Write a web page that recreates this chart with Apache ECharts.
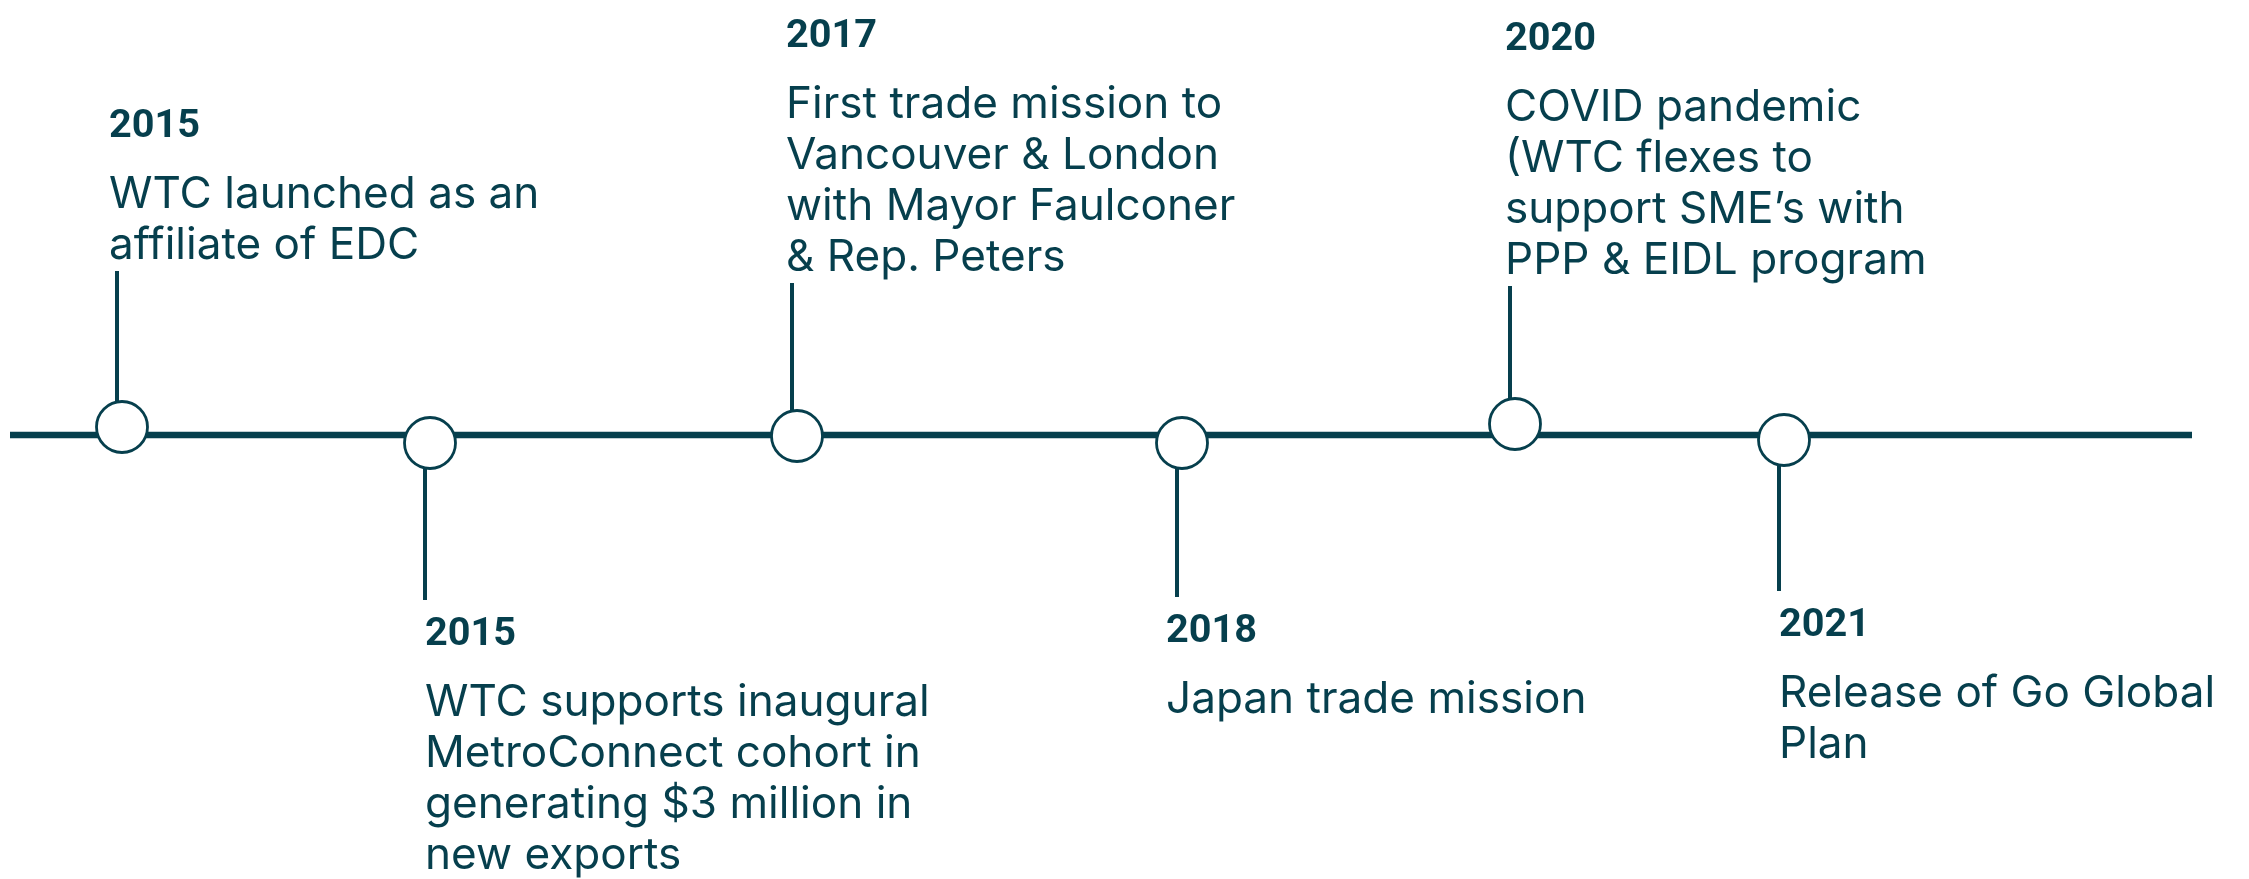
<!DOCTYPE html>
<html><head><meta charset="utf-8">
<script src="https://cdn.jsdelivr.net/npm/echarts@6/dist/echarts.min.js"></script>
<style>html,body{margin:0;padding:0;background:#fff}#c{width:2249px;height:879px}</style>
</head><body><div id="c"></div>
<script>
// ---- data ----
const years = ['2015', '2015', '2017', '2018', '2020', '2021'];
const descriptions = [
  ['WTC launched as an', 'affiliate of EDC'],
  ['WTC supports inaugural', 'MetroConnect cohort in', 'generating $3 million in', 'new exports'],
  ['First trade mission to', 'Vancouver & London', 'with Mayor Faulconer', '& Rep. Peters'],
  ['Japan trade mission'],
  ['COVID pandemic', '(WTC flexes to', 'support SME\u2019s with', 'PPP & EIDL program'],
  ['Release of Go Global', 'Plan']
];
// position of each event along the timeline (x value) and its marker level (y value)
const eventPos = [122, 430, 797, 1182, 1515, 1784];
const markerLevel = [427, 443, 436, 443, 424, 440];
// where each connector ends (y value)
const stemEnd = [271, 600, 283, 597, 286, 591];
const timelineRange = [10, 2192];
const timelineLevel = 435;

// ---- style ----
const COLOR = '#063f4d';
const DESC_FONT = 'Inter';
const YEAR_FONT = 'Roboto';
function fitSize(text, family, weight, target) {
  const cv = document.createElement('canvas').getContext('2d');
  cv.font = weight + ' 100px "' + family + '"';
  return 100 * target / cv.measureText(text).width;
}
const descSize = fitSize('WTC supports inaugural', DESC_FONT, 'normal', 505);
const yearSize = fitSize('2015', YEAR_FONT, 'bold', 91);
const LINE_GAP = 51, YEAR_GAP = 70;
const DESC_NUDGE = 3, YEAR_NUDGE = 5;
const labelShift = [-8, 0, -6, -11, -5, 0];

const chart = echarts.init(document.getElementById('c'));

function renderItem(params, api) {
  const i = params.dataIndex;
  const c = api.coord([api.value(0), api.value(1)]);
  const e = api.coord([api.value(0), api.value(2)]);
  const up = e[1] < c[1];
  const r = 25.5;
  const sx = c[0] - 5;
  const tx = sx + labelShift[i];
  const kids = [];
  kids.push({type: 'line', shape: {x1: sx, y1: up ? c[1] - r : c[1] + r, x2: sx, y2: e[1]},
    style: {stroke: COLOR, lineWidth: 4}});
  kids.push({type: 'circle', shape: {cx: c[0], cy: c[1], r: r},
    style: {fill: '#fff', stroke: COLOR, lineWidth: 2.8}, z2: 5});
  const lines = descriptions[i];
  let yearY, firstY;
  if (up) {
    const lastY = e[1] - 28;
    firstY = lastY - (lines.length - 1) * LINE_GAP;
    yearY = firstY - YEAR_GAP;
  } else {
    yearY = e[1] + 30;
    firstY = yearY + YEAR_GAP;
  }
  kids.push({type: 'text', x: tx, y: yearY + YEAR_NUDGE,
    style: {text: years[i], fill: COLOR, font: 'bold ' + yearSize.toFixed(1) + 'px "' + YEAR_FONT + '"',
      align: 'left', verticalAlign: 'middle'}});
  lines.forEach(function (t, k) {
    kids.push({type: 'text', x: tx, y: firstY + k * LINE_GAP + DESC_NUDGE,
      style: {text: t, fill: COLOR, font: descSize.toFixed(1) + 'px "' + DESC_FONT + '"',
        align: 'left', verticalAlign: 'middle'}});
  });
  return {type: 'group', children: kids};
}

chart.setOption({
  backgroundColor: '#fff',
  animation: false,
  grid: {left: 0, right: 0, top: 0, bottom: 0},
  xAxis: {type: 'value', min: 0, max: 2249, show: false},
  yAxis: {type: 'value', min: 0, max: 879, inverse: true, show: false},
  series: [
    {type: 'line', data: timelineRange.map(function (x) { return [x, timelineLevel]; }),
      symbol: 'none', lineStyle: {color: COLOR, width: 6.5}, z: 1, silent: true},
    {type: 'custom', renderItem: renderItem, clip: false, z: 2,
      data: eventPos.map(function (x, i) { return [x, markerLevel[i], stemEnd[i]]; })}
  ]
});
</script></body></html>
